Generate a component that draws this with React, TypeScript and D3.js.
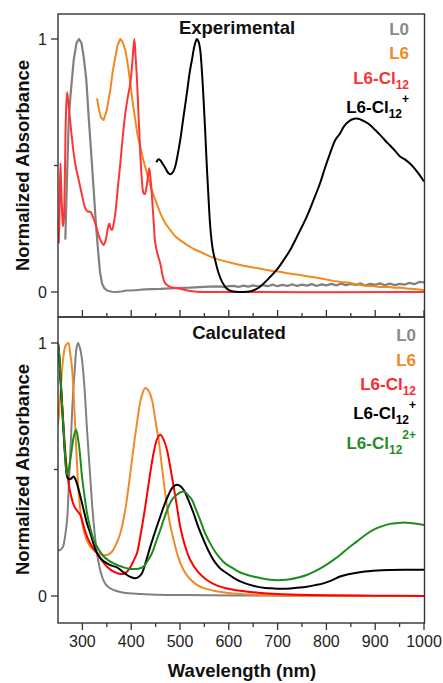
import * as d3 from "d3";

// ---- data: [wavelength nm, normalized absorbance] ----

// Experimental
const expL0: [number, number][] = [
  [265, 0.207], [268.6, 0.46], [272, 0.68], [275.4, 0.772], [282.2, 0.917], [288, 0.985], [293, 1.0],
  [298, 0.985], [302.6, 0.93], [308, 0.84], [312.8, 0.693], [318, 0.55], [323.1, 0.403], [328, 0.26],
  [332, 0.166], [336, 0.08], [340.2, 0.034], [345, 0.015], [350.4, 0.006], [360, 0.001], [370, 0.0],
  [380, 0.002], [390, 0.006], [400, 0.006], [420, 0.009], [440, 0.011], [460, 0.012], [480, 0.014],
  [500, 0.016], [520, 0.017], [540, 0.019], [560, 0.021], [580, 0.022], [590, 0.019], [600, 0.023],
  [610, 0.024], [620, 0.02], [630, 0.025], [640, 0.021], [650, 0.026], [660, 0.022], [670, 0.027],
  [680, 0.023], [690, 0.029], [700, 0.023], [710, 0.028], [720, 0.024], [730, 0.03], [740, 0.024],
  [750, 0.029], [760, 0.025], [770, 0.031], [780, 0.024], [790, 0.03], [800, 0.026], [810, 0.032],
  [820, 0.026], [830, 0.033], [840, 0.027], [850, 0.032], [860, 0.028], [870, 0.034], [880, 0.026],
  [890, 0.032], [900, 0.028], [910, 0.034], [920, 0.027], [930, 0.033], [940, 0.027], [950, 0.032],
  [960, 0.029], [970, 0.036], [980, 0.031], [990, 0.04], [1000, 0.038],
];
const expL6: [number, number][] = [
  [330, 0.765], [334, 0.72], [338, 0.69], [343.6, 0.68], [350, 0.72], [357.3, 0.8], [362, 0.87],
  [367.5, 0.93], [372, 0.975], [377.7, 1.0], [382, 0.99], [388, 0.957], [393, 0.9], [398.2, 0.825],
  [403, 0.75], [408.4, 0.68], [413, 0.62], [418.6, 0.574], [425, 0.52], [432.3, 0.469], [440, 0.415],
  [449.4, 0.364], [460, 0.31], [469.8, 0.271], [480, 0.245], [490, 0.22], [500, 0.205], [515, 0.185],
  [528, 0.17], [541, 0.159], [560, 0.142], [576, 0.13], [595, 0.12], [610, 0.113], [630, 0.104],
  [650, 0.097], [665, 0.092], [678, 0.087], [690, 0.083], [705, 0.08], [720, 0.074], [735, 0.07],
  [746, 0.067], [760, 0.062], [775, 0.058], [790, 0.053], [805, 0.047], [814, 0.044], [830, 0.04],
  [848, 0.037], [860, 0.031], [870, 0.028], [883, 0.024], [895, 0.024], [910, 0.02], [925, 0.021],
  [940, 0.017], [950, 0.018], [965, 0.014], [980, 0.012], [990, 0.01], [1000, 0.007],
];
const expL6Cl12: [number, number][] = [
  [251.5, 0.192], [253, 0.3], [255, 0.509], [256.5, 0.42], [258.3, 0.324], [260, 0.26], [261.7, 0.278],
  [264, 0.45], [266, 0.68], [268.6, 0.79], [271, 0.75], [275.4, 0.667], [282.2, 0.548], [287, 0.49],
  [292.4, 0.443], [299, 0.385], [306, 0.33], [311, 0.318], [316.3, 0.317], [321, 0.3], [326.5, 0.271],
  [331, 0.24], [336.8, 0.206], [343.6, 0.186], [347, 0.2], [350.4, 0.232], [353, 0.26], [355.2, 0.271],
  [358, 0.25], [360.7, 0.245], [364, 0.27], [367.5, 0.311], [372, 0.4], [377.7, 0.509], [383, 0.62],
  [388, 0.706], [393, 0.77], [398.2, 0.825], [402, 0.9], [406.4, 1.0], [409, 0.93], [411.9, 0.838],
  [415, 0.7], [418.6, 0.548], [422, 0.44], [425.4, 0.39], [428, 0.388], [430.3, 0.403], [434, 0.45],
  [437, 0.489], [440, 0.44], [442.6, 0.377], [446, 0.28], [449.4, 0.192], [454, 0.15], [459.6, 0.113],
  [465, 0.06], [469.8, 0.034], [480, 0.02], [495, 0.015], [510, 0.008], [530, 0.002], [560, 0], [1000, 0],
];
const expL6Cl12p: [number, number][] = [
  [451.4, 0.513], [456, 0.525], [460, 0.52], [465, 0.505], [470, 0.49], [476, 0.47], [481, 0.465],
  [486, 0.475], [490.2, 0.496], [495, 0.54], [500.5, 0.601], [507, 0.69], [514.1, 0.786], [520, 0.87],
  [524.4, 0.917], [530, 0.975], [534.6, 1.0], [538, 0.99], [541.4, 0.957], [545, 0.87], [548.3, 0.76],
  [552, 0.62], [555, 0.495], [558.5, 0.37], [562, 0.258], [567, 0.17], [572, 0.126], [579, 0.075],
  [586, 0.041], [595, 0.015], [603, 0.005], [615, 0.001], [630, 0], [645, 0.003], [655, 0.01],
  [664, 0.021], [680, 0.05], [698, 0.087], [712, 0.125], [725.7, 0.166], [740, 0.22], [759.8, 0.298],
  [775, 0.37], [787, 0.43], [797, 0.49], [807.5, 0.548], [818, 0.6], [828, 0.627], [836, 0.655],
  [845, 0.673], [852, 0.682], [862, 0.686], [870, 0.682], [880, 0.672], [889.4, 0.66], [900, 0.64],
  [910, 0.621], [920, 0.6], [930, 0.58], [940, 0.56], [950.8, 0.536], [960, 0.525], [970, 0.51],
  [980, 0.49], [990, 0.465], [1000, 0.437],
];

// Calculated
const calcL0: [number, number][] = [
  [250, 0.18], [254.9, 0.182], [260.3, 0.195], [264, 0.23], [268.6, 0.3], [272, 0.43], [276.8, 0.63],
  [280, 0.77], [284.3, 0.894], [288, 0.98], [291.1, 1.0], [295, 0.98], [299.2, 0.934], [304, 0.83],
  [309.5, 0.657], [315, 0.5], [319.7, 0.367], [325, 0.25], [330, 0.169], [335, 0.115], [340.2, 0.077],
  [348, 0.045], [357.3, 0.03], [370, 0.02], [384.5, 0.013], [420, 0.008], [452.8, 0.005], [500, 0.004],
  [555, 0.003], [650, 0.002], [750, 0.001], [850, 0], [1000, 0],
];
const calcL6: [number, number][] = [
  [250, 0.68], [251.5, 0.71], [255, 0.8], [258.3, 0.894], [262, 0.96], [265.1, 0.987], [271, 1.0],
  [275, 0.96], [278.8, 0.9], [282, 0.8], [285.6, 0.657], [289, 0.52], [292.4, 0.406], [297, 0.32],
  [302.6, 0.261], [309, 0.22], [316.3, 0.195], [325, 0.178], [333.3, 0.169], [340, 0.163], [347, 0.161],
  [354, 0.165], [360.6, 0.175], [368, 0.2], [377.7, 0.248], [386, 0.32], [394.7, 0.433], [403, 0.56],
  [411.8, 0.683], [420, 0.78], [428.9, 0.822], [436, 0.81], [442.5, 0.776], [449, 0.7], [456.2, 0.617],
  [463, 0.51], [469.8, 0.406], [478, 0.3], [486.9, 0.222], [497, 0.15], [507.3, 0.103], [520, 0.068],
  [534.6, 0.044], [550, 0.03], [568.7, 0.021], [595, 0.013], [623.3, 0.008], [700, 0.003], [800, 0.001],
  [1000, 0],
];
const calcL6Cl12: [number, number][] = [
  [250, 1.0], [251.5, 0.974], [255, 0.87], [258.3, 0.763], [262, 0.65], [265.1, 0.565], [269.9, 0.472],
  [274, 0.42], [278.8, 0.38], [282, 0.36], [285.6, 0.347], [290, 0.335], [295.8, 0.32], [302, 0.28],
  [309.5, 0.235], [320, 0.195], [330, 0.169], [340, 0.14], [350.4, 0.116], [365, 0.095], [377.7, 0.087],
  [385, 0.088], [391.4, 0.096], [400, 0.12], [405, 0.14], [411.8, 0.169], [420, 0.25], [428.9, 0.354],
  [437, 0.46], [445.9, 0.565], [453, 0.62], [459.6, 0.637], [466, 0.62], [473.2, 0.578], [480, 0.51],
  [486.9, 0.433], [494, 0.35], [500.5, 0.274], [510, 0.2], [521, 0.142], [537, 0.095], [555.1, 0.063],
  [575, 0.042], [596, 0.03], [623.3, 0.021], [660, 0.013], [700, 0.008], [800, 0.003], [900, 0.001],
  [1000, 0],
];
const calcL6Cl12p: [number, number][] = [
  [250, 0.99], [251.5, 0.974], [255, 0.86], [258.3, 0.75], [262, 0.63], [265.1, 0.54], [269.9, 0.466],
  [275.4, 0.462], [279, 0.468], [282.2, 0.472], [286, 0.46], [292.4, 0.42], [302.6, 0.34], [309, 0.29],
  [316.3, 0.248], [323, 0.205], [330, 0.169], [340, 0.143], [350.4, 0.129], [360, 0.12], [370.9, 0.113],
  [380, 0.1], [391.4, 0.083], [400, 0.074], [408.4, 0.07], [415, 0.075], [422, 0.09], [430, 0.135],
  [439.1, 0.195], [450, 0.26], [459.6, 0.314], [468, 0.36], [476.6, 0.4], [485, 0.43], [493.7, 0.44],
  [500, 0.435], [507.3, 0.42], [517, 0.38], [527.8, 0.327], [538, 0.27], [548.3, 0.222], [558, 0.18],
  [568.7, 0.142], [582, 0.11], [596, 0.09], [610, 0.072], [623.5, 0.058], [640, 0.046], [657.5, 0.037],
  [675, 0.032], [691.5, 0.03], [708, 0.029], [725.6, 0.03], [742, 0.033], [759.8, 0.037], [777, 0.043],
  [793.8, 0.05], [811, 0.062], [828, 0.077], [845, 0.086], [862, 0.092], [879, 0.097], [896, 0.1],
  [913, 0.102], [930, 0.103], [960, 0.104], [1000, 0.104],
];
const calcL6Cl12pp: [number, number][] = [
  [250, 1.0], [251.5, 0.98], [255, 0.87], [258.3, 0.76], [262, 0.64], [265.1, 0.54], [268.6, 0.479],
  [272, 0.5], [275.4, 0.54], [279, 0.59], [282.2, 0.63], [287, 0.657], [292.4, 0.604], [296, 0.54],
  [299.2, 0.472], [304, 0.4], [309.5, 0.327], [316, 0.27], [323.1, 0.222], [333, 0.185], [343.6, 0.156],
  [354, 0.14], [364.1, 0.129], [375, 0.12], [384.5, 0.113], [395, 0.108], [405, 0.107], [415, 0.108],
  [425.5, 0.116], [434, 0.14], [442.5, 0.169], [451, 0.215], [459.6, 0.261], [468, 0.31], [476.6, 0.354],
  [485, 0.385], [493.7, 0.4], [501, 0.41], [508.7, 0.413], [516, 0.4], [524.4, 0.38], [533, 0.34],
  [541.4, 0.3], [551, 0.25], [561.9, 0.208], [572, 0.175], [582.4, 0.149], [592, 0.13], [602.8, 0.116],
  [613, 0.104], [623.5, 0.093], [640, 0.082], [657.5, 0.074], [675, 0.067], [691.5, 0.063], [708, 0.063],
  [725.6, 0.066], [742, 0.073], [759.8, 0.083], [777, 0.098], [793.8, 0.116], [811, 0.138], [828, 0.162],
  [845, 0.19], [862, 0.215], [879, 0.24], [896, 0.261], [913, 0.275], [930, 0.285], [947, 0.289],
  [964, 0.29], [981, 0.287], [1000, 0.281],
];

// ticks
const xMajorTicks = [300, 400, 500, 600, 700, 800, 900, 1000];
const xMinorTicks = [350, 450, 550, 650, 750, 850, 950];
const yLabelTicks = [0, 1];
const yMinorTicks = [0.5];

const FONT = "'Liberation Sans', Arial, Helvetica, sans-serif";
const W = 443;
const H = 683;

const x = d3.scaleLinear().domain([250, 1000]).range([58, 424]);
const yTop = d3.scaleLinear().domain([0, 1]).range([292, 39]);
const yBot = d3.scaleLinear().domain([0, 1]).range([596, 343]);

const smooth = d3.curveCatmullRom.alpha(0.5);

const mkPath = (y: d3.ScaleLinear<number, number>, data: [number, number][], curve: any = smooth) =>
  d3
    .line<[number, number]>()
    .x((d) => x(d[0]))
    .y((d) => y(d[1]))
    .curve(curve)(data) as string;

// legend label: base text, optional subscript, optional superscript
const Label = ({ xr, y, color, base, sub, sup }: any) => (
  <text x={xr} y={y} textAnchor="end" fill={color} fontFamily={FONT} fontWeight="bold" fontSize={17}>
    {base}
    {sub && (
      <tspan fontSize={12} dy={5}>
        {sub}
      </tspan>
    )}
    {sup && (
      <tspan fontSize={12} dy={-15}>
        {sup}
      </tspan>
    )}
  </text>
);

const YAxis = ({ y }: { y: d3.ScaleLinear<number, number> }) => (
  <g>
    {yLabelTicks.map((t) => (
      <g key={t}>
        <line x1={51} x2={58} y1={y(t)} y2={y(t)} stroke="#333" strokeWidth={1.3} />
        <text x={47} y={y(t)} dy="0.35em" textAnchor="end" fontFamily={FONT} fontSize={16} fill="#222">
          {t}
        </text>
      </g>
    ))}
    {yMinorTicks.map((t) => (
      <line key={t} x1={54} x2={58} y1={y(t)} y2={y(t)} stroke="#333" strokeWidth={1.3} />
    ))}
    <text
      transform={`translate(29,${y(0.5)}) rotate(-90)`}
      textAnchor="middle"
      fontFamily={FONT}
      fontWeight="bold"
      fontSize={18.5}
      fill="#111"
    >
      Normalized Absorbance
    </text>
  </g>
);

export default function App() {
  const topSeries = [
    { d: expL0, c: "#808080", curve: d3.curveLinear, w: 2.2 },
    { d: expL6, c: "#f0891e", curve: d3.curveLinear, w: 2 },
    { d: expL6Cl12, c: "#ff3535", curve: smooth, w: 2 },
    { d: expL6Cl12p, c: "#000000", curve: smooth, w: 2 },
  ];
  const botSeries = [
    { d: calcL0, c: "#808080" },
    { d: calcL6, c: "#ef8a2a" },
    { d: calcL6Cl12, c: "#ff0000" },
    { d: calcL6Cl12p, c: "#000000" },
    { d: calcL6Cl12pp, c: "#1c8c1c" },
  ];

  return (
    <svg width={W} height={H} style={{ position: "absolute", left: 0, top: 0, background: "#fff" }}>
      <defs>
        <clipPath id="clipTop">
          <rect x={58} y={14} width={366.5} height={303} />
        </clipPath>
        <clipPath id="clipBot">
          <rect x={58} y={317} width={366.5} height={306} />
        </clipPath>
      </defs>

      {/* top panel */}
      <g clipPath="url(#clipTop)" fill="none" strokeLinejoin="round">
        {topSeries.map((s, i) => (
          <path key={i} d={mkPath(yTop, s.d, s.curve)} stroke={s.c} strokeWidth={s.w} />
        ))}
      </g>
      <rect x={58} y={14} width={366.5} height={303} fill="none" stroke="#333" strokeWidth={1.4} />
      {xMajorTicks.map((t) => (
        <line key={t} x1={x(t)} x2={x(t)} y1={317} y2={310} stroke="#333" strokeWidth={1.3} />
      ))}
      {xMinorTicks.map((t) => (
        <line key={t} x1={x(t)} x2={x(t)} y1={317} y2={313} stroke="#333" strokeWidth={1.3} />
      ))}
      <YAxis y={yTop} />
      <text x={237} y={34} textAnchor="middle" fontFamily={FONT} fontWeight="bold" fontSize={18.5} fill="#111">
        Experimental
      </text>
      <Label xr={409} y={35} color="#8a8a8a" base="L0" />
      <Label xr={409} y={59} color="#f08a24" base="L6" />
      <Label xr={409} y={84} color="#f53535" base="L6-Cl" sub="12" />
      <Label xr={409} y={113} color="#000" base="L6-Cl" sub="12" sup="+" />

      {/* bottom panel */}
      <g clipPath="url(#clipBot)" fill="none" strokeWidth={2} strokeLinejoin="round">
        {botSeries.map((s, i) => (
          <path key={i} d={mkPath(yBot, s.d)} stroke={s.c} />
        ))}
      </g>
      <rect x={58} y={317} width={366.5} height={306} fill="none" stroke="#333" strokeWidth={1.4} />
      {xMajorTicks.map((t) => (
        <g key={t}>
          <line x1={x(t)} x2={x(t)} y1={623} y2={630} stroke="#333" strokeWidth={1.3} />
          <text x={x(t)} y={647} textAnchor="middle" fontFamily={FONT} fontSize={16} fill="#222">
            {t}
          </text>
        </g>
      ))}
      {xMinorTicks.map((t) => (
        <line key={t} x1={x(t)} x2={x(t)} y1={623} y2={627} stroke="#333" strokeWidth={1.3} />
      ))}
      <YAxis y={yBot} />
      <text x={239} y={339} textAnchor="middle" fontFamily={FONT} fontWeight="bold" fontSize={18.5} fill="#111">
        Calculated
      </text>
      <Label xr={416} y={341} color="#8a8a8a" base="L0" />
      <Label xr={416} y={366} color="#f08a28" base="L6" />
      <Label xr={416} y={390} color="#ff2a2a" base="L6-Cl" sub="12" />
      <Label xr={416} y={419} color="#000" base="L6-Cl" sub="12" sup="+" />
      <Label xr={416} y={449} color="#1f8f1f" base="L6-Cl" sub="12" sup="2+" />

      <text x={242} y={677} textAnchor="middle" fontFamily={FONT} fontWeight="bold" fontSize={18.5} fill="#111">
        Wavelength (nm)
      </text>
    </svg>
  );
}
